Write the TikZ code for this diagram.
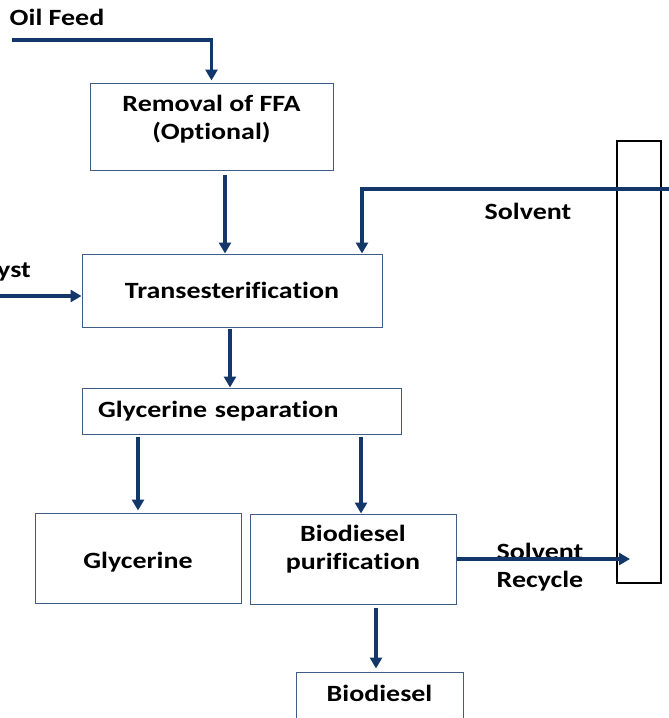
\documentclass[tikz,border=0pt]{standalone}
\usepackage{fontspec}
\setmainfont{Carlito}[FakeStretch = 1.2, Ligatures = NoCommon]
\usetikzlibrary{arrows.meta}

\definecolor{flowblue}{RGB}{18,55,104}
\definecolor{boxblue}{RGB}{62,92,132}

\begin{document}
\begin{tikzpicture}[x = 1pt, y = -1pt, > = {Triangle[width = 12pt, length = 11pt]},
	font = \fontsize{23.3}{28}\selectfont\bfseries,
	unit/.style = {draw = boxblue, line width = 1pt, rectangle, align = center, inner sep = 0pt},
	flow/.style = {->, draw = flowblue, line width = 3.5pt}]

	% Frame
	
	\clip (0, 0) rectangle (669, 718);
	
	% Process units
	
	\node [unit, minimum width = 243, minimum height = 87, text depth = 18] (ffa) at (211.5, 126.5) {Removal of FFA\\(Optional)};
	\node [unit, minimum width = 300, minimum height = 73] (trans) at (232, 290.5) {Transesterification};
	\node [unit, text width = 287, inner xsep = 16, minimum height = 46, align = left] (gsep) at (241.5, 411) {Glycerine separation};
	\node [unit, minimum width = 206, minimum height = 90, text height = 24] (glyc) at (138, 558) {Glycerine};
	\node [unit, minimum width = 206, minimum height = 90, text depth = 24] (purif) at (353, 559) {Biodiesel\\purification};
	\node [unit, minimum width = 167, minimum height = 60, text depth = 17] (bio) at (379.5, 702) {Biodiesel};
	\node [draw, line width = 2pt, minimum width = 44, minimum height = 442, inner sep = 0pt] (col) at (639, 362) {};
	
	% Labels
	
	\node (oil) at (57, 17) {Oil Feed};
	\node [anchor = east, inner sep = 0pt] (cat) at (31, 272) {yst};
	\node (solv) at (528, 211) {Solvent};
	\node [align = center] (rec) at (540, 567) {Solvent\\Recycle};
	
	% Streams
	
	\coordinate (oilin) at (12, 40);
	\coordinate (catin) at (0, 296);
	\coordinate (solvin) at (669, 189);
	
	\draw [flow, shorten > = 2pt] (oilin) -| (ffa.north);
	\draw [flow] ([xshift = 13.5pt, yshift = -4pt]ffa.south) -- ([xshift = 13.5pt]ffa.south |- trans.north);
	\draw [flow] (solvin) -| ([xshift = 130pt]trans.north);
	\draw [flow] (catin) -- (catin -| trans.west);
	\draw [flow] ([xshift = -2pt, yshift = -1pt]trans.south) -- ([xshift = -2pt]trans.south |- gsep.north);
	\draw [flow, shorten > = 2pt] ([yshift = -2pt]glyc.north |- gsep.south) -- (glyc.north);
	\draw [flow] ([xshift = 8pt, yshift = -2pt]purif.north |- gsep.south) -- ([xshift = 8pt]purif.north);
	\draw [flow] (purif.east) -- ([xshift = 14pt]col.west |- purif.east);
	\draw [flow, shorten > = 3pt] ([xshift = -3.5pt, yshift = -3pt]bio.north |- purif.south) -- ([xshift = -3.5pt]bio.north);

\end{tikzpicture}
\end{document}
